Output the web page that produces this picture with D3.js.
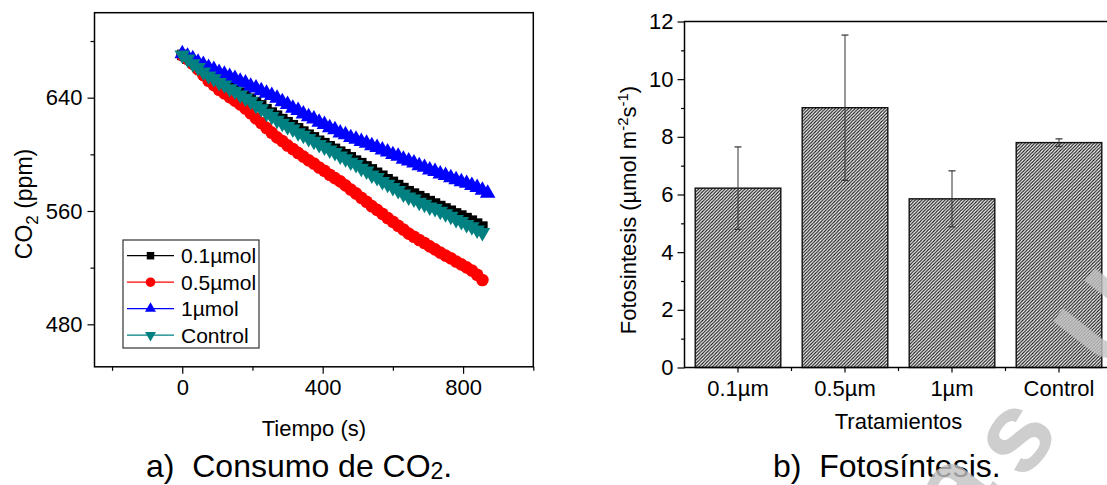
<!DOCTYPE html>
<html>
<head>
<meta charset="utf-8">
<script src="https://cdn.jsdelivr.net/npm/d3@7"></script>
<style>
  body { margin: 0; background: #fff; }
  text { font-family: "Liberation Sans", Arial, sans-serif; fill: #000; }
</style>
</head>
<body>
<svg id="fig" width="1107" height="485"></svg>
<script>
// ———————————————————————————
// 1. Data
// ———————————————————————————
// panel a) CO2 (ppm) every 15 s
const tiempo = [0, 15, 30, 45, 60, 75, 90, 105, 120, 135, 150, 165, 180, 195, 210, 225,
  240, 255, 270, 285, 300, 315, 330, 345, 360, 375, 390, 405, 420, 435, 450, 465, 480,
  495, 510, 525, 540, 555, 570, 585, 600, 615, 630, 645, 660, 675, 690, 705, 720, 735,
  750, 765, 780, 795, 810, 825, 840, 855, 870];

const co2_01 = [670.2, 667.5, 664.9, 661.9, 659.1, 656.0, 653.9, 651.6, 649.8, 648.1,
  645.6, 643.5, 641.4, 639.3, 636.9, 634.6, 631.9, 629.5, 627.3, 624.9, 622.7, 620.6,
  618.4, 616.1, 613.9, 612.0, 609.6, 607.9, 605.7, 603.9, 601.9, 600.1, 597.9, 595.6,
  593.8, 591.5, 589.4, 587.0, 584.9, 582.4, 580.6, 578.3, 576.2, 574.0, 572.3, 570.5,
  568.9, 567.0, 565.3, 563.5, 561.8, 560.2, 558.3, 556.8, 555.0, 553.2, 551.1, 549.0];

const co2_05 = [670.0, 667.2, 664.0, 660.1, 656.0, 652.0, 648.9, 645.6, 643.1, 640.4,
  637.9, 635.3, 632.4, 629.0, 625.4, 622.1, 618.6, 615.3, 612.0, 609.4, 606.3, 603.8,
  601.0, 598.4, 595.8, 593.5, 590.7, 588.4, 585.6, 583.2, 580.9, 578.1, 575.2, 572.4,
  569.3, 566.5, 563.4, 560.8, 558.0, 555.1, 552.4, 549.6, 546.9, 544.0, 541.8, 539.5,
  537.4, 535.0, 532.9, 530.6, 528.5, 526.6, 524.3, 522.3, 520.2, 518.0, 515.0, 511.3];

const co2_1 = [671.0, 669.2, 667.5, 665.0, 663.4, 661.3, 659.9, 657.8, 656.6, 654.9,
  653.5, 651.6, 650.3, 648.0, 646.8, 644.9, 643.2, 641.5, 639.6, 637.1, 635.2, 632.6,
  630.9, 628.5, 626.6, 624.9, 622.6, 621.0, 618.8, 617.4, 615.1, 613.9, 611.8, 610.6,
  609.0, 607.9, 606.0, 604.9, 603.0, 601.7, 599.8, 598.6, 596.5, 595.3, 593.9, 592.0,
  590.8, 589.0, 587.9, 586.1, 585.0, 583.4, 582.1, 580.6, 579.5, 578.0, 576.6, 574.7, 572.6];

const co2_ctrl = [670.1, 667.3, 664.0, 661.3, 658.1, 655.4, 653.4, 650.8, 648.9, 646.3,
  644.5, 641.9, 639.6, 637.4, 634.5, 632.2, 629.0, 626.8, 624.1, 622.0, 619.6, 617.9,
  615.2, 613.5, 611.1, 609.3, 607.0, 605.2, 603.1, 601.3, 598.8, 596.9, 594.5, 592.8,
  590.1, 588.3, 585.4, 583.6, 580.9, 578.8, 576.6, 574.4, 572.0, 569.9, 568.4, 566.2,
  564.8, 562.9, 561.7, 559.8, 558.0, 556.3, 554.0, 552.5, 550.4, 548.9, 546.5, 544.8];

const series_names = ["0.1\u00b5mol", "0.5\u00b5mol", "1\u00b5mol", "Control"];
const x_ticks_a = [0, 400, 800];
const x_minor_a = [-200, 200, 600, 1000];
const y_ticks_a = [480, 560, 640];
const y_minor_a = [520, 600, 680];

// panel b) photosynthesis
const tratamientos = ["0.1\u00b5m", "0.5\u00b5m", "1\u00b5m", "Control"];
const fotosintesis = [6.22, 9.01, 5.85, 7.80];
const error_std    = [1.43, 2.52, 0.97, 0.13];
const y_ticks_b = [0, 2, 4, 6, 8, 10, 12];
const y_minor_b = [1, 3, 5, 7, 9, 11];

// ———————————————————————————
// 2. SVG + pattern
// ———————————————————————————
const svg = d3.select("#fig");
const FONT = 22;

const defs = svg.append("defs");
defs.append("pattern")
    .attr("id", "hatch")
    .attr("patternUnits", "userSpaceOnUse")
    .attr("width", 3.3).attr("height", 3.3)
  .append("path")
    .attr("d", "M-1,1 l2,-2 M0,3.3 l3.3,-3.3 M2.3,4.3 l2,-2")
    .attr("stroke", "#111").attr("stroke-width", 1.1);

// ———————————————————————————
// 3. Panel a: CO2 vs time
// ———————————————————————————
const A = { left: 94.5, right: 533.3, top: 12.7, bottom: 366.8 };
const x = d3.scaleLinear().domain([-250, 1000]).range([A.left, A.right]);
const y = d3.scaleLinear().domain([450, 700]).range([A.bottom, A.top]);

const ga = svg.append("g");

// size = marker area in the plot, lsize = marker area in the legend
const series = [
  { name: series_names[0], values: co2_01,   color: "#000000", shape: d3.symbolSquare,   size: 110, lsize: 56, rot: 0 },
  { name: series_names[1], values: co2_05,   color: "#ff0000", shape: d3.symbolCircle,   size: 125, lsize: 72, rot: 0 },
  { name: series_names[2], values: co2_1,    color: "#0000ff", shape: d3.symbolTriangle, size: 105, lsize: 52, rot: 0 },
  { name: series_names[3], values: co2_ctrl, color: "#008080", shape: d3.symbolTriangle, size: 105, lsize: 52, rot: 180 }
];

const line = d3.line()
  .x(d => x(d.t))
  .y(d => y(d.v));

series.forEach(s => {
  const pts = s.values.map((v, i) => ({ t: tiempo[i], v: v }));
  const sg = ga.append("g");
  sg.append("path")
    .datum(pts)
    .attr("d", line)
    .attr("fill", "none")
    .attr("stroke", s.color)
    .attr("stroke-width", 1);
  sg.selectAll("path.pt")
    .data(pts)
    .join("path")
      .attr("class", "pt")
      .attr("d", d3.symbol().type(s.shape).size(s.size))
      .attr("transform", d => `translate(${x(d.t)},${y(d.v)}) rotate(${s.rot})`)
      .attr("fill", s.color);
});

// frame
ga.append("rect")
  .attr("x", A.left).attr("y", A.top)
  .attr("width", A.right - A.left).attr("height", A.bottom - A.top)
  .attr("fill", "none").attr("stroke", "#000").attr("stroke-width", 1.5);

// axes
ga.append("g")
  .attr("transform", `translate(0,${A.bottom})`)
  .call(d3.axisBottom(x).tickValues(x_ticks_a).tickSize(7).tickPadding(6).tickFormat(d3.format("d")));
ga.append("g")
  .attr("transform", `translate(0,${A.bottom})`)
  .call(d3.axisBottom(x).tickValues(x_minor_a).tickSize(4).tickFormat(""));
ga.append("g")
  .attr("transform", `translate(${A.left},0)`)
  .call(d3.axisLeft(y).tickValues(y_ticks_a).tickSize(7).tickPadding(5).tickFormat(d3.format("d")));
ga.append("g")
  .attr("transform", `translate(${A.left},0)`)
  .call(d3.axisLeft(y).tickValues(y_minor_a).tickSize(4).tickFormat(""));

ga.selectAll(".domain").remove();
ga.selectAll(".tick line").attr("stroke", "#000").attr("stroke-width", 1.2);
ga.selectAll(".tick text").attr("font-size", FONT).attr("font-family", null);

// axis titles
ga.append("text")
  .attr("x", (A.left + A.right) / 2).attr("y", 436)
  .attr("text-anchor", "middle").attr("font-size", 22)
  .text("Tiempo (s)");

const ylab = ga.append("text")
  .attr("transform", `translate(32,${204}) rotate(-90)`)
  .attr("text-anchor", "middle").attr("font-size", 23);
ylab.append("tspan").text("CO");
ylab.append("tspan").attr("font-size", 17).attr("dy", 6).text("2");
ylab.append("tspan").attr("dy", -6).text(" (ppm)");

// legend
const leg = ga.append("g");
leg.append("rect")
  .attr("x", 123).attr("y", 240).attr("width", 136).attr("height", 108)
  .attr("fill", "#fff").attr("stroke", "#333").attr("stroke-width", 1.2);
series.forEach((s, i) => {
  const ly = 255.7 + i * 26.5;
  leg.append("line")
    .attr("x1", 127).attr("x2", 174).attr("y1", ly).attr("y2", ly)
    .attr("stroke", s.color).attr("stroke-width", 1.2);
  leg.append("path")
    .attr("d", d3.symbol().type(s.shape).size(s.lsize))
    .attr("transform", `translate(150.5,${ly}) rotate(${s.rot})`)
    .attr("fill", s.color);
  leg.append("text")
    .attr("x", 181).attr("y", ly + 7.5)
    .attr("font-size", 21)
    .text(s.name);
});

// ———————————————————————————
// 4. Panel b: bars with error bars
// ———————————————————————————
const B = { left: 684.5, right: 1112.5, top: 21.5, bottom: 367.5 };
const xb = d3.scaleBand().domain(tratamientos).range([B.left, B.right])
  .paddingInner(0.2).paddingOuter(0.1);
const yb = d3.scaleLinear().domain([0, 12]).range([B.bottom, B.top]);

const gb = svg.append("g");

gb.selectAll("rect.bar")
  .data(tratamientos)
  .join("rect")
    .attr("class", "bar")
    .attr("x", d => xb(d))
    .attr("y", (d, i) => yb(fotosintesis[i]))
    .attr("width", xb.bandwidth())
    .attr("height", (d, i) => yb(0) - yb(fotosintesis[i]))
    .attr("fill", "url(#hatch)")
    .attr("stroke", "#111").attr("stroke-width", 1.4);

// error bars
const eb = gb.selectAll("g.err")
  .data(tratamientos)
  .join("g")
    .attr("class", "err")
    .attr("transform", d => `translate(${xb(d) + xb.bandwidth() / 2},0)`);
eb.append("line")
  .attr("y1", (d, i) => yb(fotosintesis[i] - error_std[i]))
  .attr("y2", (d, i) => yb(fotosintesis[i] + error_std[i]))
  .attr("stroke", "#333").attr("stroke-width", 1);
eb.append("line")
  .attr("x1", -3.5).attr("x2", 3.5)
  .attr("y1", (d, i) => yb(fotosintesis[i] + error_std[i]))
  .attr("y2", (d, i) => yb(fotosintesis[i] + error_std[i]))
  .attr("stroke", "#333").attr("stroke-width", 1.2);
eb.append("line")
  .attr("x1", -3.5).attr("x2", 3.5)
  .attr("y1", (d, i) => yb(fotosintesis[i] - error_std[i]))
  .attr("y2", (d, i) => yb(fotosintesis[i] - error_std[i]))
  .attr("stroke", "#333").attr("stroke-width", 1.2);

// axes
gb.append("g")
  .attr("transform", `translate(${B.left},0)`)
  .call(d3.axisLeft(yb).tickValues(y_ticks_b).tickSize(7).tickPadding(4).tickFormat(d3.format("d")));
gb.append("g")
  .attr("transform", `translate(${B.left},0)`)
  .call(d3.axisLeft(yb).tickValues(y_minor_b).tickSize(3.5).tickFormat(""));
gb.append("g")
  .attr("transform", `translate(0,${B.bottom})`)
  .call(d3.axisBottom(xb).tickSize(5).tickPadding(8));

gb.selectAll(".domain").remove();
gb.selectAll(".tick line").attr("stroke", "#000").attr("stroke-width", 1.2);
gb.selectAll(".tick text").attr("font-size", FONT).attr("font-family", null);

// separator ticks between categories
const seps = tratamientos.slice(1).map(d => xb(d) - xb.step() * xb.paddingInner() / 2);
gb.selectAll("line.sep")
  .data(seps)
  .join("line")
    .attr("class", "sep")
    .attr("x1", d => d).attr("x2", d => d)
    .attr("y1", B.bottom).attr("y2", B.bottom + 3.5)
    .attr("stroke", "#000").attr("stroke-width", 1.2);

// frame
gb.append("rect")
  .attr("x", B.left).attr("y", B.top)
  .attr("width", B.right - B.left).attr("height", B.bottom - B.top)
  .attr("fill", "none").attr("stroke", "#000").attr("stroke-width", 1.5);

gb.append("text")
  .attr("x", (B.left + B.right) / 2).attr("y", 429)
  .attr("text-anchor", "middle").attr("font-size", 22)
  .text("Tratamientos");

const ylb = gb.append("text")
  .attr("transform", `translate(636,${210}) rotate(-90)`)
  .attr("text-anchor", "middle").attr("font-size", 22);
ylb.append("tspan").text("Fotosintesis (\u00b5mol m");
ylb.append("tspan").attr("font-size", 15).attr("dy", -8).text("-2");
ylb.append("tspan").attr("dy", 8).text("s");
ylb.append("tspan").attr("font-size", 15).attr("dy", -8).text("-1");
ylb.append("tspan").attr("dy", 8).text(")");

// ———————————————————————————
// 5. Captions + watermark
// ———————————————————————————
const capA = svg.append("text")
  .attr("x", 146).attr("y", 477).attr("font-size", 32)
  .attr("xml:space", "preserve");
capA.append("tspan").text("a)  Consumo de CO");
capA.append("tspan").attr("font-size", 23).attr("dy", 2).text("2");
capA.append("tspan").attr("dy", -2).text(".");

svg.append("text")
  .attr("x", 773).attr("y", 477).attr("font-size", 32)
  .attr("xml:space", "preserve")
  .text("b)  Fotos\u00edntesis.");

// faint watermark letters over the lower right corner (cut by the edge, as in the scan)
const wm = svg.append("g").attr("opacity", 0.8);
[["a", 950, 488], ["s", 1012, 434], ["U", 1104, 318]].forEach(([ch, wx, wy]) => {
  wm.append("text")
    .attr("transform", `translate(${wx},${wy}) rotate(-52)`)
    .attr("text-anchor", "middle")
    .attr("dominant-baseline", "central")
    .attr("font-size", 112)
    .attr("font-weight", "bold")
    .style("fill", "#c2c2c2")
    .text(ch);
});
</script>
</body>
</html>
